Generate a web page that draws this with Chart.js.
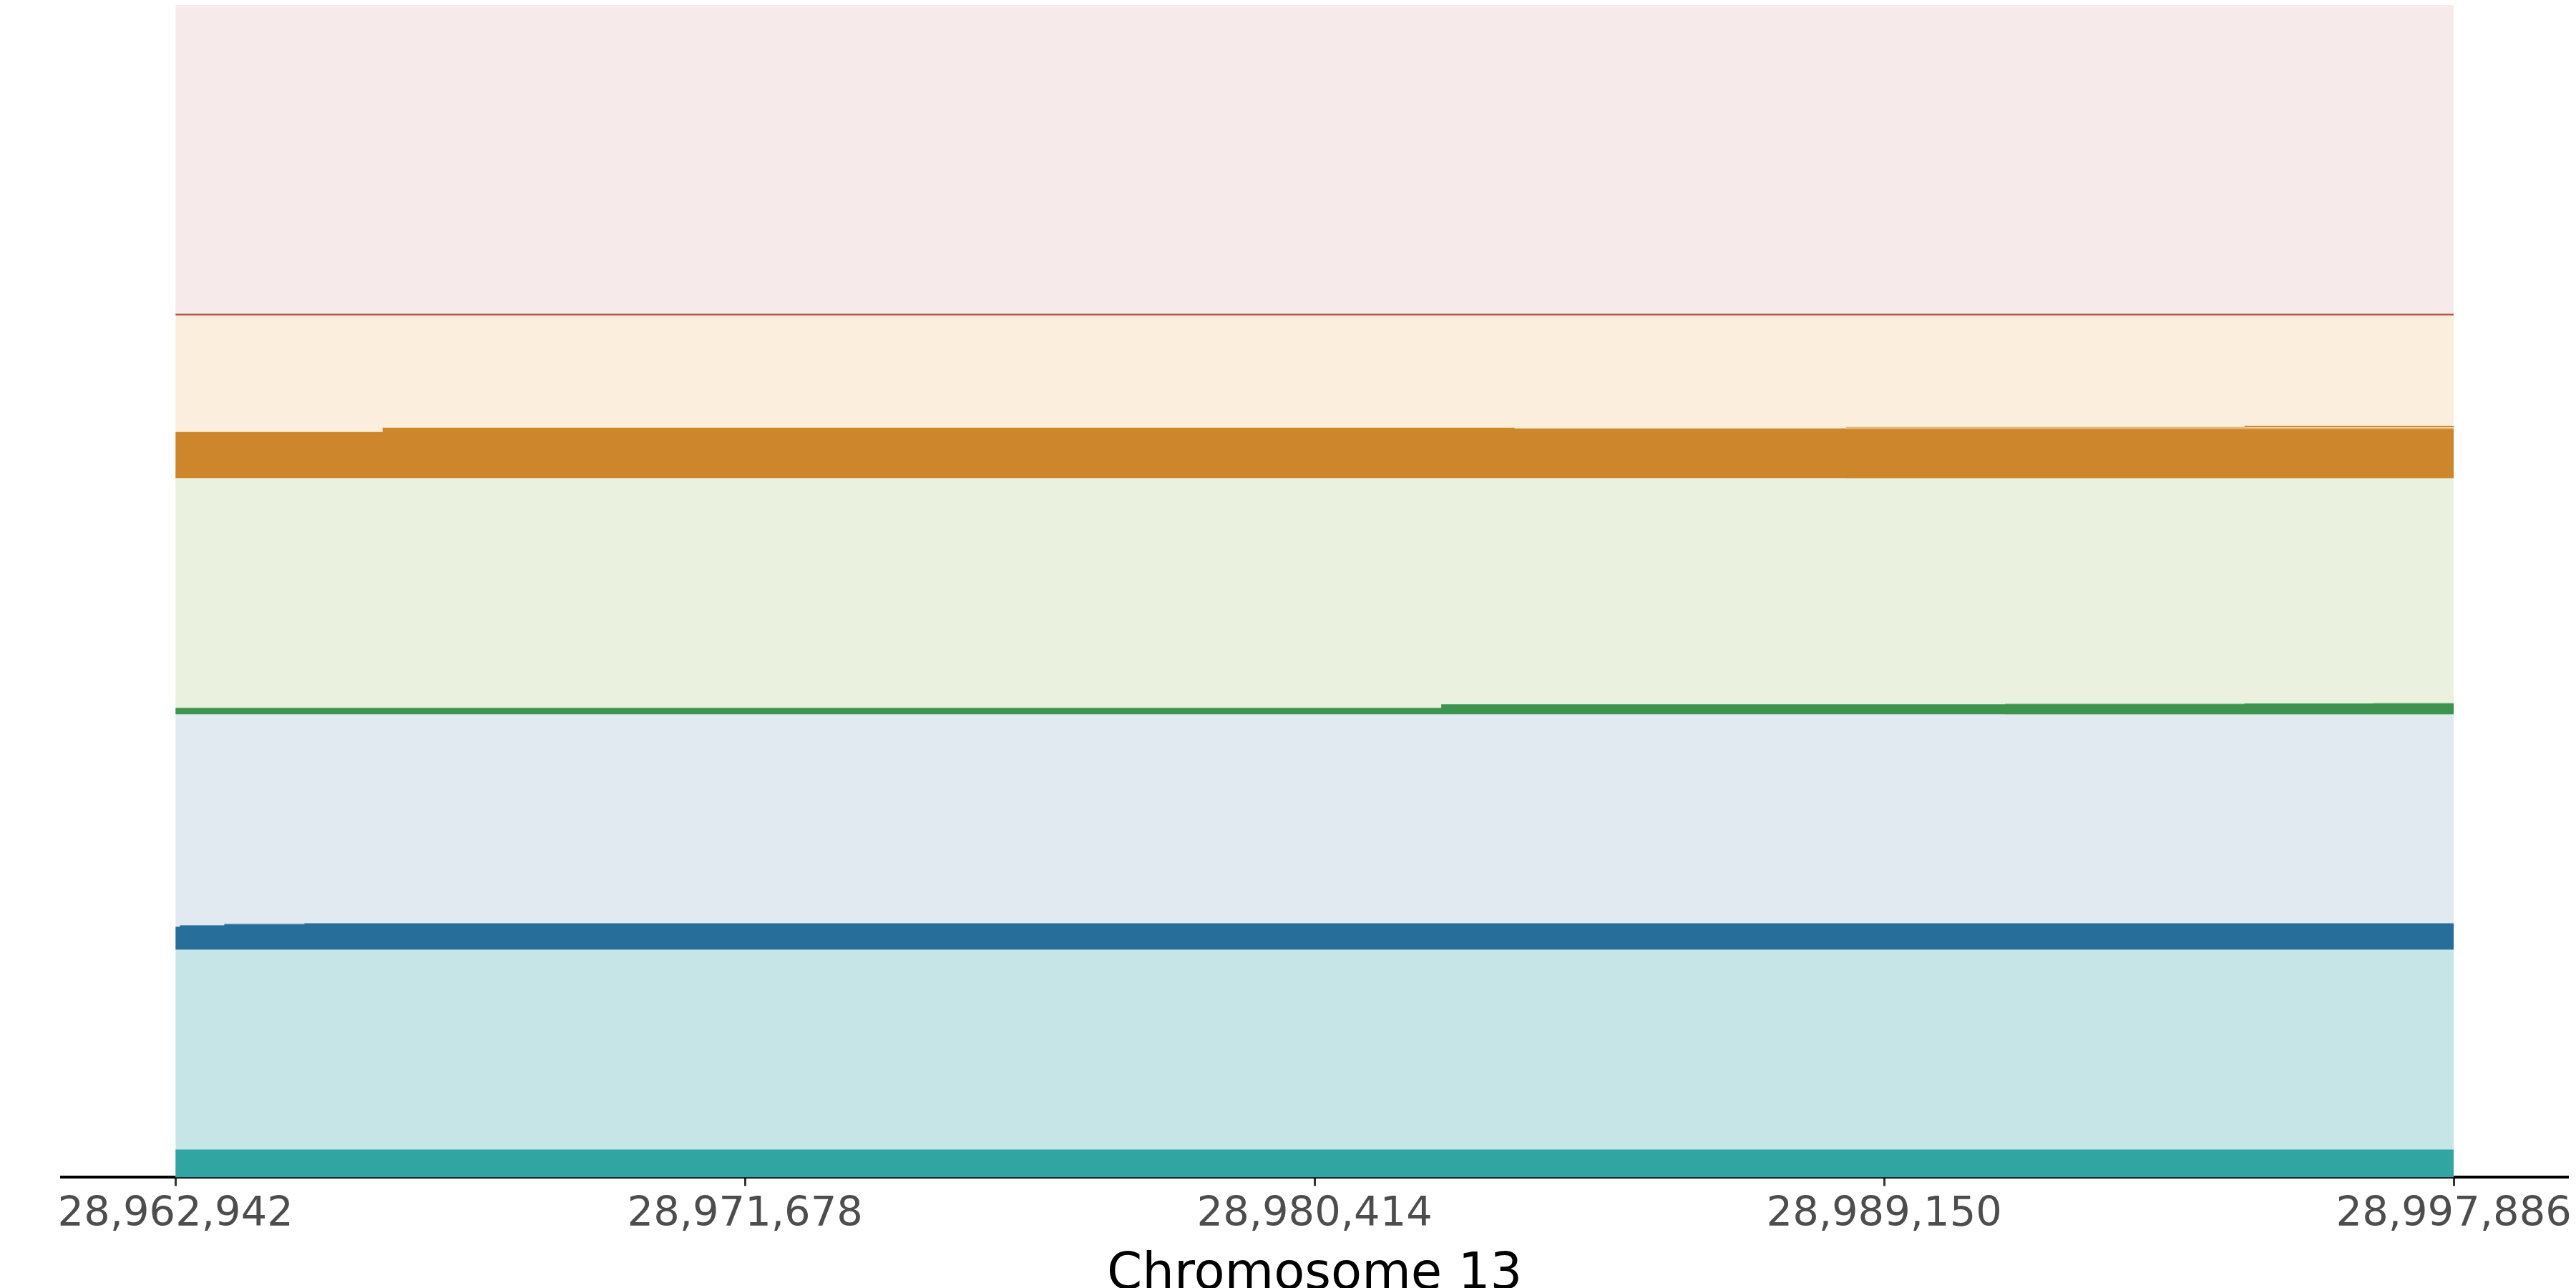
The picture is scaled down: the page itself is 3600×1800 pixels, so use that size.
<!DOCTYPE html>
<html lang="en">
<head>
    <meta charset="UTF-8">
    <title>Chromosome 13 coverage</title>
    <style>
        html, body {
            margin: 0;
            padding: 0;
            background: #ffffff;
            overflow: hidden;
        }
        #wrap {
            width: 3600px;
            height: 1825px;
        }
    </style>
    <script src="https://cdn.jsdelivr.net/npm/chart.js"></script>
</head>
<body>
    <div id="wrap"><canvas id="myChart"></canvas></div>
    <script>
        // region shown, and the tick positions
        const regionStart = 28962942;
        const regionEnd = 28997886;
        const tickValues = [28962942, 28971678, 28980414, 28989150, 28997886];

        // tracks, bottom to top (base offset and band top, in stacked units)
        const trackNames = ['teal', 'blue', 'green', 'orange', 'pink'];
        const trackBase = [0, 318.5, 647.5, 977.5, 1205];
        const trackTop = [318.5, 647.5, 977.5, 1205, 1639];

        // step coverage: x = start of each step, value = height above track base
        const tealX = [28962942];
        const tealCov = [39];

        const blueX = [28962942, 28963011, 28963691, 28964920];
        const blueCov = [32, 33.8, 35.2, 36.5];
        const blueUpX = [28963691, 28964920];
        const blueUpCov = [36.2, 36.5];

        const greenX = [28962942, 28982356, 28994676];
        const greenCov = [9, 13.8, 14.8];
        const greenUpX = [28991002, 28996651];
        const greenUpCov = [14.8, 15.8];

        const orangeX = [28962942, 28966120, 28983479, 28988558];
        const orangeCov = [64.5, 70.5, 69.5, 68.5];
        const orangeUpX = [28988558, 28994676];
        const orangeUpCov = [71.5, 70.8];
        const orangeEdgeX = [28962942, 28966120, 28994676];
        const orangeEdgeCov = [70, null, 72.2];

        const pinkX = [28962942];
        const pinkCov = [2.3];

        const bandColors = ['#c5e5e6', '#e1e9f1', '#eaf1de', '#fbeedc', '#f6eaea'];
        const fillColors = ['#31a5a2', '#276e9a', '#3d944f', '#cd862b', '#b5574b'];
        const upColors = ['rgba(49,165,162,0.5)', 'rgba(39,110,154,0.5)', 'rgba(61,148,79,0.5)', 'rgba(205,134,43,0.55)', 'rgba(181,87,75,0.5)'];

        function stepPoints(xs, vals, base) {
            const pts = [];
            for (let i = 0; i < xs.length; i++) {
                pts.push({ x: xs[i], y: vals[i] === null ? null : base + vals[i] });
            }
            const last = vals[vals.length - 1];
            pts.push({ x: regionEnd, y: last === null ? null : base + last });
            return pts;
        }

        function fillSet(label, pts, color, base, order) {
            return {
                label: label,
                data: pts,
                stepped: true,
                fill: { value: base },
                backgroundColor: color,
                borderWidth: 0,
                pointRadius: 0,
                order: order
            };
        }

        const datasets = [];

        // coverage fills on top
        const covX = [tealX, blueX, greenX, orangeX, pinkX];
        const covV = [tealCov, blueCov, greenCov, orangeCov, pinkCov];
        for (let t = 0; t < trackNames.length; t++) {
            datasets.push(fillSet(trackNames[t], stepPoints(covX[t], covV[t], trackBase[t]), fillColors[t], trackBase[t], 1));
        }

        // lighter upper envelope
        datasets.push(fillSet('blue upper', stepPoints(blueUpX, blueUpCov, trackBase[1]), upColors[1], trackBase[1], 2));
        datasets.push(fillSet('green upper', stepPoints(greenUpX, greenUpCov, trackBase[2]), upColors[2], trackBase[2], 2));
        datasets.push(fillSet('orange upper', stepPoints(orangeUpX, orangeUpCov, trackBase[3]), upColors[3], trackBase[3], 2));

        // thin edge line above the orange fill
        datasets.push({
            label: 'orange edge',
            data: stepPoints(orangeEdgeX, orangeEdgeCov, trackBase[3]),
            stepped: true,
            fill: false,
            borderColor: fillColors[3],
            borderWidth: 2,
            pointRadius: 0,
            spanGaps: false,
            order: 0
        });

        // background bands
        for (let t = 0; t < trackNames.length; t++) {
            datasets.push(fillSet(trackNames[t] + ' band',
                [{ x: regionStart, y: trackTop[t] }, { x: regionEnd, y: trackTop[t] }],
                bandColors[t], trackBase[t], 3));
        }

        const pad = (regionEnd - regionStart) * 0.05;

        Chart.defaults.font.family = "'DejaVu Sans', sans-serif";

        const ctx = document.getElementById('myChart').getContext('2d');
        new Chart(ctx, {
            type: 'line',
            data: { datasets: datasets },
            options: {
                responsive: true,
                maintainAspectRatio: false,
                animation: false,
                events: [],
                layout: {
                    padding: { top: 7, left: 86, right: 4, bottom: 0 }
                },
                plugins: {
                    legend: { display: false },
                    tooltip: { enabled: false }
                },
                scales: {
                    x: {
                        type: 'linear',
                        min: regionStart - pad,
                        max: regionEnd + pad,
                        afterBuildTicks: (scale) => {
                            scale.ticks = tickValues.map(v => ({ value: v }));
                        },
                        grid: {
                            drawOnChartArea: false,
                            drawTicks: true,
                            tickLength: 12,
                            color: '#333333',
                            lineWidth: 3
                        },
                        border: {
                            display: true,
                            color: '#000000',
                            width: 4
                        },
                        ticks: {
                            autoSkip: false,
                            maxRotation: 0,
                            padding: 6,
                            color: '#4d4d4d',
                            font: { size: 57.5 },
                            callback: (v) => Number(v).toLocaleString('en-US')
                        },
                        title: {
                            display: true,
                            text: 'Chromosome 13',
                            color: '#000000',
                            font: { size: 70.5 },
                            padding: { top: 2, bottom: 0 }
                        }
                    },
                    y: {
                        type: 'linear',
                        display: false,
                        min: 0,
                        max: 1639
                    }
                }
            }
        });
    </script>
</body>
</html>
